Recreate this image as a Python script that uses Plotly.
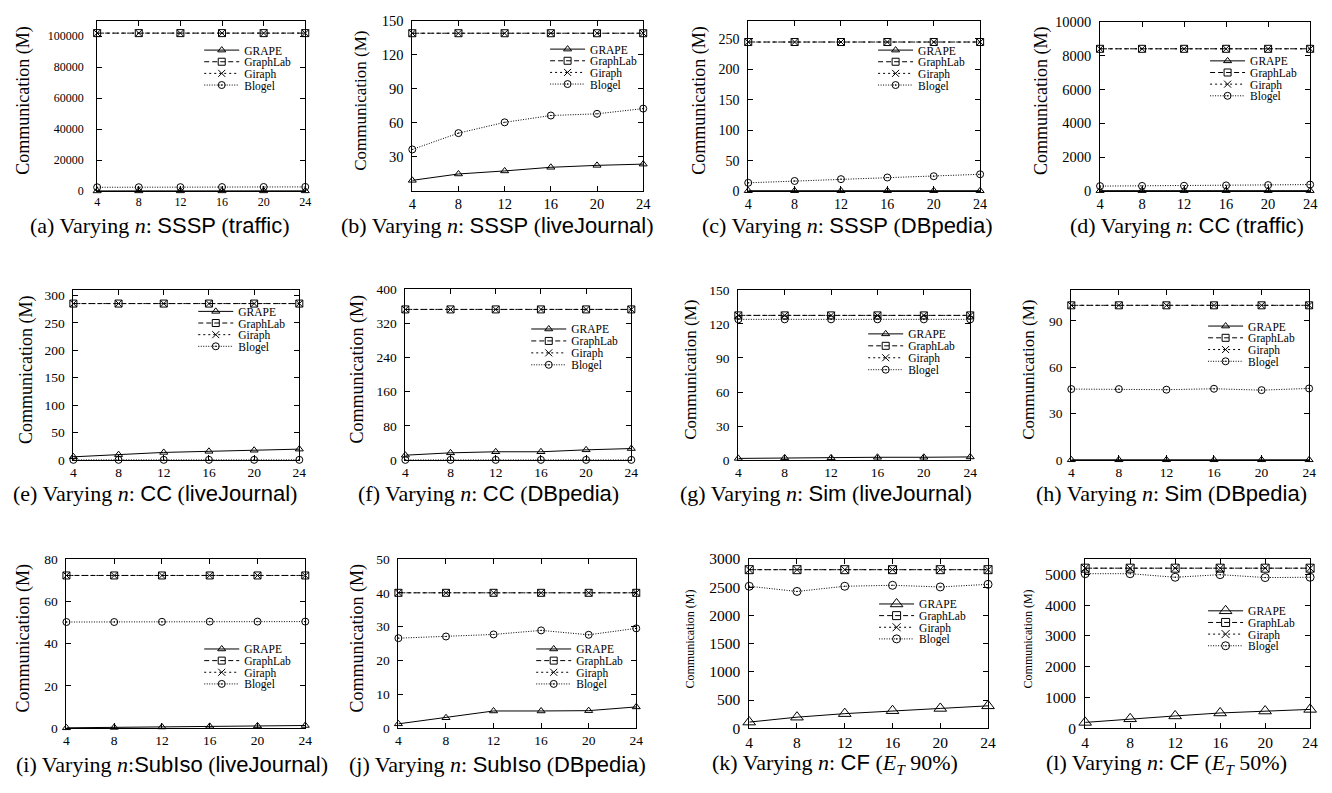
import plotly.graph_objects as go

n_vals = [4, 8, 12, 16, 20, 24]
series_names = ["GRAPE", "GraphLab", "Giraph", "Blogel"]

# (a) SSSP traffic
a_grape = [60, 70, 75, 80, 85, 90]
a_graphlab = [102000, 102000, 102000, 102000, 102000, 102000]
a_giraph = [102000, 102000, 102000, 102000, 102000, 102000]
a_blogel = [2400, 2450, 2500, 2550, 2600, 2650]
# (b) SSSP liveJournal
b_grape = [9.4, 15, 17.7, 20.9, 22.6, 23.7]
b_graphlab = [139, 139, 139, 139, 139, 139]
b_giraph = [139, 139, 139, 139, 139, 139]
b_blogel = [36.6, 51, 60.5, 66.5, 68, 72.6]
# (c) SSSP DBpedia
c_grape = [0.5, 0.5, 0.5, 0.5, 0.5, 0.5]
c_graphlab = [245, 245, 245, 245, 245, 245]
c_giraph = [245, 245, 245, 245, 245, 245]
c_blogel = [13.5, 16.5, 19.5, 22.2, 24.3, 27.5]
# (d) CC traffic
d_grape = [20, 20, 20, 20, 20, 20]
d_graphlab = [8400, 8400, 8400, 8400, 8400, 8400]
d_giraph = [8400, 8400, 8400, 8400, 8400, 8400]
d_blogel = [290, 300, 310, 330, 350, 380]
# (e) CC liveJournal
e_grape = [6, 10, 14, 16, 18, 20]
e_graphlab = [285, 285, 285, 285, 285, 285]
e_giraph = [285, 285, 285, 285, 285, 285]
e_blogel = [0.5, 0.5, 0.5, 0.5, 0.5, 0.5]
# (f) CC DBpedia
f_grape = [11.5, 17, 19.5, 19.5, 24, 27]
f_graphlab = [352, 352, 352, 352, 352, 352]
f_giraph = [352, 352, 352, 352, 352, 352]
f_blogel = [0.5, 0.5, 0.5, 0.5, 0.5, 0.5]
# (g) Sim liveJournal
g_grape = [1.5, 2, 2, 2.5, 2.5, 2.8]
g_graphlab = [127.5, 127.5, 127.5, 127.5, 127.5, 127.5]
g_giraph = [127.5, 127.5, 127.5, 127.5, 127.5, 127.5]
g_blogel = [124, 124, 124, 124, 124, 124]
# (h) Sim DBpedia
h_grape = [0.2, 0.2, 0.2, 0.2, 0.2, 0.2]
h_graphlab = [100, 100, 100, 100, 100, 100]
h_giraph = [100, 100, 100, 100, 100, 100]
h_blogel = [45.9, 45.9, 45.5, 46.1, 45.2, 46.3]
# (i) SubIso liveJournal
i_grape = [0.2, 0.4, 0.6, 0.9, 1.1, 1.3]
i_graphlab = [72.2, 72.2, 72.2, 72.2, 72.2, 72.2]
i_giraph = [72.2, 72.2, 72.2, 72.2, 72.2, 72.2]
i_blogel = [50.2, 50.2, 50.3, 50.4, 50.4, 50.4]
# (j) SubIso DBpedia
j_grape = [1.3, 3.1, 5.1, 5.1, 5.2, 6.3]
j_graphlab = [40, 40, 40, 40, 40, 40]
j_giraph = [40, 40, 40, 40, 40, 40]
j_blogel = [26.6, 27.1, 27.7, 28.9, 27.6, 29.5]
# (k) CF E_T 90%
k_grape = [109, 196, 259, 311, 351, 397]
k_graphlab = [2810, 2810, 2810, 2810, 2810, 2810]
k_giraph = [2810, 2810, 2810, 2810, 2810, 2810]
k_blogel = [2516, 2424, 2516, 2533, 2504, 2550]
# (l) CF E_T 50%
l_grape = [190, 306, 400, 496, 559, 612]
l_graphlab = [5200, 5200, 5200, 5200, 5200, 5200]
l_giraph = [5200, 5200, 5200, 5200, 5200, 5200]
l_blogel = [5021, 5021, 4905, 4990, 4895, 4905]

# y tick values per panel
a_ticks = [0, 20000, 40000, 60000, 80000, 100000]
b_ticks = [30, 60, 90, 120, 150]
c_ticks = [0, 50, 100, 150, 200, 250]
d_ticks = [0, 2000, 4000, 6000, 8000, 10000]
e_ticks = [0, 50, 100, 150, 200, 250, 300]
f_ticks = [0, 80, 160, 240, 320, 400]
g_ticks = [0, 30, 60, 90, 120, 150]
h_ticks = [0, 30, 60, 90]
i_ticks = [0, 20, 40, 60, 80]
j_ticks = [0, 10, 20, 30, 40, 50]
k_ticks = [0, 500, 1000, 1500, 2000, 2500, 3000]
l_ticks = [0, 1000, 2000, 3000, 4000, 5000]

SANS = "font-family:'Liberation Sans', Arial, sans-serif"
def sf(t):
    return f"<span style=\"{SANS}\">{t}</span>"

captions = [
    f"(a) Varying <i>n</i>: {sf('SSSP')} ({sf('traffic')})",
    f"(b) Varying <i>n</i>: {sf('SSSP')} ({sf('liveJournal')})",
    f"(c) Varying <i>n</i>: {sf('SSSP')} ({sf('DBpedia')})",
    f"(d) Varying <i>n</i>: {sf('CC')} ({sf('traffic')})",
    f"(e) Varying <i>n</i>: {sf('CC')} ({sf('liveJournal')})",
    f"(f) Varying <i>n</i>: {sf('CC')} ({sf('DBpedia')})",
    f"(g) Varying <i>n</i>: {sf('Sim')} ({sf('liveJournal')})",
    f"(h) Varying <i>n</i>: {sf('Sim')} ({sf('DBpedia')})",
    f"(i) Varying <i>n</i>:{sf('SubIso')} ({sf('liveJournal')})",
    f"(j) Varying <i>n</i>: {sf('SubIso')} ({sf('DBpedia')})",
    f"(k) Varying <i>n</i>: {sf('CF')} (<i>E</i><sub><i>T</i></sub> 90%)",
    f"(l) Varying <i>n</i>: {sf('CF')} (<i>E</i><sub><i>T</i></sub> 50%)",
]

# layout per panel: plot box (px), tick font, title font, title x, legend (left, first row, row gap), caption centre
panels = [
    dict(data=[a_grape, a_graphlab, a_giraph, a_blogel], ticks=a_ticks, rng=[0, 110000],
         box=(94, 304, 12, 186), tf=12, tt=18, tx=20, so=10, leg=(197, 42, 11.9), cap=(157, 221), ms=7),
    dict(data=[b_grape, b_graphlab, b_giraph, b_blogel], ticks=b_ticks, rng=[0, 150],
         box=(412, 645, 12, 186), tf=14.5, tt=17, tx=360, so=5, leg=(546, 41, 11.9), cap=(498, 221), ms=7),
    dict(data=[c_grape, c_graphlab, c_giraph, c_blogel], ticks=c_ticks, rng=[0, 280],
         box=(751, 985, 12, 186), tf=14, tt=18, tx=702, so=5, leg=(877, 42, 11.9), cap=(851, 221), ms=7),
    dict(data=[d_grape, d_graphlab, d_giraph, d_blogel], ticks=d_ticks, rng=[0, 10000],
         box=(1106, 1318, 13, 186), tf=14.5, tt=18, tx=1047, so=5, leg=(1212, 53, 11.9), cap=(1194, 221), ms=7),
    dict(data=[e_grape, e_graphlab, e_giraph, e_blogel], ticks=e_ticks, rng=[0, 310],
         box=(70, 298, 287, 461), tf=13.5, tt=18, tx=22, so=5, leg=(191, 309, 11.9), cap=(152, 495), ms=7),
    dict(data=[f_grape, f_graphlab, f_giraph, f_blogel], ticks=f_ticks, rng=[0, 400],
         box=(405, 633, 286, 461), tf=13.5, tt=18, tx=357, so=5, leg=(527, 327, 12.2), cap=(489, 495), ms=7),
    dict(data=[g_grape, g_graphlab, g_giraph, g_blogel], ticks=g_ticks, rng=[0, 150],
         box=(741, 975, 287, 461), tf=13.5, tt=17, tx=692, so=5, leg=(867, 332, 12.2), cap=(829, 495), ms=7),
    dict(data=[h_grape, h_graphlab, h_giraph, h_blogel], ticks=h_ticks, rng=[0, 110],
         box=(1077, 1317, 287, 461), tf=13.5, tt=17, tx=1033, so=5, leg=(1210, 324, 12.0), cap=(1178, 495), ms=7),
    dict(data=[i_grape, i_graphlab, i_giraph, i_blogel], ticks=i_ticks, rng=[0, 80],
         box=(63, 304, 562, 735), tf=13.5, tt=18, tx=20, so=5, leg=(197, 654, 11.9), cap=(170, 772), ms=7),
    dict(data=[j_grape, j_graphlab, j_giraph, j_blogel], ticks=j_ticks, rng=[0, 50],
         box=(398, 638, 562, 735), tf=13.5, tt=18, tx=357, so=5, leg=(532, 654, 11.9), cap=(498, 772), ms=7),
    dict(data=[k_grape, k_graphlab, k_giraph, k_blogel], ticks=k_ticks, rng=[0, 3000],
         box=(752, 993, 562, 735), tf=15.5, tt=12, tx=692, so=5, leg=(878, 608, 11.9), cap=(839, 772), ms=8),
    dict(data=[l_grape, l_graphlab, l_giraph, l_blogel], ticks=l_ticks, rng=[0, 5500],
         box=(1091, 1318, 562, 735), tf=15.5, tt=12, tx=1033, so=5, leg=(1210, 615, 11.9), cap=(1173, 772), ms=8),
]

W, H = 1332, 793
symbols = ["triangle-up-open", "square-open", "x-thin-open", "circle-open-dot"]
dashes = ["solid", "5px,3px", "2px,3px", "1px,1.5px"]
SERIF = "Liberation Serif, Times New Roman, serif"

fig = go.Figure()
layout = dict(
    width=W, height=H, margin=dict(l=0, r=0, t=0, b=0),
    paper_bgcolor="white", plot_bgcolor="white", showlegend=True,
    font=dict(family=SERIF, color="black"),
)
annotations = []

for idx, p in enumerate(panels):
    k = idx + 1
    xa = "x" if k == 1 else f"x{k}"
    ya = "y" if k == 1 else f"y{k}"
    xkey = "xaxis" if k == 1 else f"xaxis{k}"
    ykey = "yaxis" if k == 1 else f"yaxis{k}"
    x0, x1, y0, y1 = p["box"]
    big = p["ms"] > 7
    lx, ly, lgap = p["leg"]
    for s in range(4):
        li = 4 * idx + s + 1
        lkey = "legend" if li == 1 else f"legend{li}"
        msize = p["ms"]
        if s == 0 and big:
            msize = 11
        fig.add_trace(go.Scatter(
            x=n_vals, y=p["data"][s], name=series_names[s], mode="lines+markers",
            xaxis=xa, yaxis=ya, legend=lkey, cliponaxis=False,
            line=dict(color="black", width=1, dash=dashes[s]),
            marker=dict(symbol=symbols[s], size=msize, color="black",
                        line=dict(color="black", width=1)),
        ))
        layout[lkey] = dict(
            x=lx / W, y=1 - (ly + s * lgap) / H, xanchor="left", yanchor="middle",
            bgcolor="rgba(0,0,0,0)", borderwidth=0, itemwidth=35,
            font=dict(family=SERIF, size=11.5, color="black"),
            tracegroupgap=0,
        )
    layout[xkey] = dict(
        domain=[x0 / W, x1 / W], anchor=ya, range=[4, 24],
        tickvals=n_vals, ticks="inside", ticklen=5, tickcolor="black",
        showline=True, linecolor="black", linewidth=1, mirror="ticks",
        showgrid=False, zeroline=False,
        tickfont=dict(family=SERIF, size=p["tf"], color="black"),
    )
    layout[ykey] = dict(
        domain=[1 - y1 / H, 1 - y0 / H], anchor=xa, range=p["rng"],
        tickvals=p["ticks"], tickformat="d", ticks="inside", ticklen=5, tickcolor="black",
        showline=True, linecolor="black", linewidth=1, mirror="ticks",
        showgrid=False, zeroline=False, ticklabelstandoff=p["so"],
        tickfont=dict(family=SERIF, size=p["tf"], color="black"),
    )
    annotations.append(dict(
        text="Communication (M)", textangle=-90, xref="paper", yref="paper",
        x=p["tx"] / W, y=1 - ((y0 + y1) / 2 - 5) / H, xanchor="center", yanchor="middle",
        showarrow=False, font=dict(family=SERIF, size=p["tt"], color="black"),
    ))
    cx, cy = p["cap"]
    annotations.append(dict(
        text=captions[idx], xref="paper", yref="paper", x=cx / W, y=1 - cy / H,
        xanchor="center", yanchor="middle", showarrow=False,
        font=dict(family=SERIF, size=22, color="black"),
    ))

layout["annotations"] = annotations
fig.update_layout(**layout)
fig.write_html("out.html", config={"displayModeBar": False},
               post_script="document.body.style.margin='0';document.body.style.padding='0';")
